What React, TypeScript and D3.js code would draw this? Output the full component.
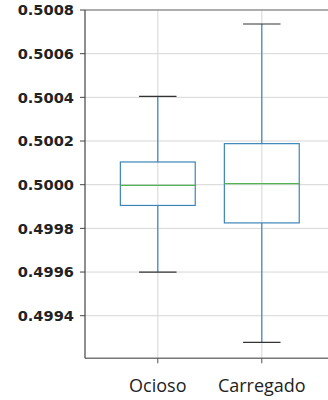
import * as d3 from 'd3';

const categories = ['Ocioso', 'Carregado'];
const lowerWhisker = [0.4996, 0.499278];
const q1 = [0.499905, 0.499825];
const median = [0.499997, 0.500005];
const q3 = [0.500104, 0.500188];
const upperWhisker = [0.500404, 0.500736];
const yTicks = [0.4994, 0.4996, 0.4998, 0.5, 0.5002, 0.5004, 0.5006, 0.5008];

export default function App() {
  const width = 328;
  const height = 400;
  const m = { t: 10, l: 85, b: 358.3, r: 334.6 };

  const y = d3.scaleLinear().domain([0.499205, 0.5008]).range([m.b, m.t]);
  const x = d3.scaleLinear().domain([-0.7, categories.length - 0.3]).range([m.l, m.r]);
  const step = x(1) - x(0);
  const boxW = step * 0.72;
  const capW = boxW / 2;

  const boxColor = '#3d85b8';
  const medianColor = '#52b352';
  const gridColor = '#d6d6d6';

  return (
    <div style={{ position: 'fixed', left: 0, top: 0 }}>
      <svg width={width} height={height} style={{ display: 'block', background: '#fff' }}>
        {/* grid */}
        {yTicks.map(t => (
          <line key={'gy' + t} x1={m.l} x2={width} y1={y(t)} y2={y(t)} stroke={gridColor} strokeWidth={1} />
        ))}
        {categories.map((c, i) => (
          <line key={'gx' + c} x1={x(i)} x2={x(i)} y1={m.t} y2={m.b} stroke={gridColor} strokeWidth={1} />
        ))}

        {/* boxes */}
        {categories.map((c, i) => {
          const cx = x(i);
          return (
            <g key={c}>
              <line x1={cx} x2={cx} y1={y(q3[i])} y2={y(upperWhisker[i])} stroke={boxColor} strokeWidth={1.2} />
              <line x1={cx} x2={cx} y1={y(q1[i])} y2={y(lowerWhisker[i])} stroke={boxColor} strokeWidth={1.2} />
              <line x1={cx - capW / 2} x2={cx + capW / 2} y1={y(upperWhisker[i])} y2={y(upperWhisker[i])} stroke="#333" strokeWidth={1.2} />
              <line x1={cx - capW / 2} x2={cx + capW / 2} y1={y(lowerWhisker[i])} y2={y(lowerWhisker[i])} stroke="#333" strokeWidth={1.2} />
              <rect x={cx - boxW / 2} y={y(q3[i])} width={boxW} height={y(q1[i]) - y(q3[i])} fill="none" stroke={boxColor} strokeWidth={1.2} />
              <line x1={cx - boxW / 2} x2={cx + boxW / 2} y1={y(median[i])} y2={y(median[i])} stroke={medianColor} strokeWidth={1.3} />
            </g>
          );
        })}

        {/* spines */}
        <line x1={m.l} x2={width} y1={m.t} y2={m.t} stroke="#999" strokeWidth={1.5} />
        <line x1={m.l} x2={width} y1={m.b} y2={m.b} stroke="#777" strokeWidth={1.5} />
        <line x1={m.l} x2={m.l} y1={m.t} y2={m.b} stroke="#444" strokeWidth={1.2} />

        {/* y axis */}
        {yTicks.map(t => (
          <g key={'ty' + t}>
            <line x1={m.l - 5} x2={m.l} y1={y(t)} y2={y(t)} stroke="#444" strokeWidth={1} />
            <text x={m.l - 11} y={y(t)} dy="0.36em" textAnchor="end" fontFamily="DejaVu Sans" fontWeight="bold" fontSize={14.6} fill="#222">
              {t.toFixed(4)}
            </text>
          </g>
        ))}

        {/* x axis */}
        {categories.map((c, i) => (
          <g key={'tx' + c}>
            <line x1={x(i)} x2={x(i)} y1={m.b} y2={m.b + 5} stroke="#555" strokeWidth={1} />
            <text x={x(i)} y={392} textAnchor="middle" fontFamily="Open Sans" fontSize={18} fill="#222">
              {c}
            </text>
          </g>
        ))}
      </svg>
    </div>
  );
}
